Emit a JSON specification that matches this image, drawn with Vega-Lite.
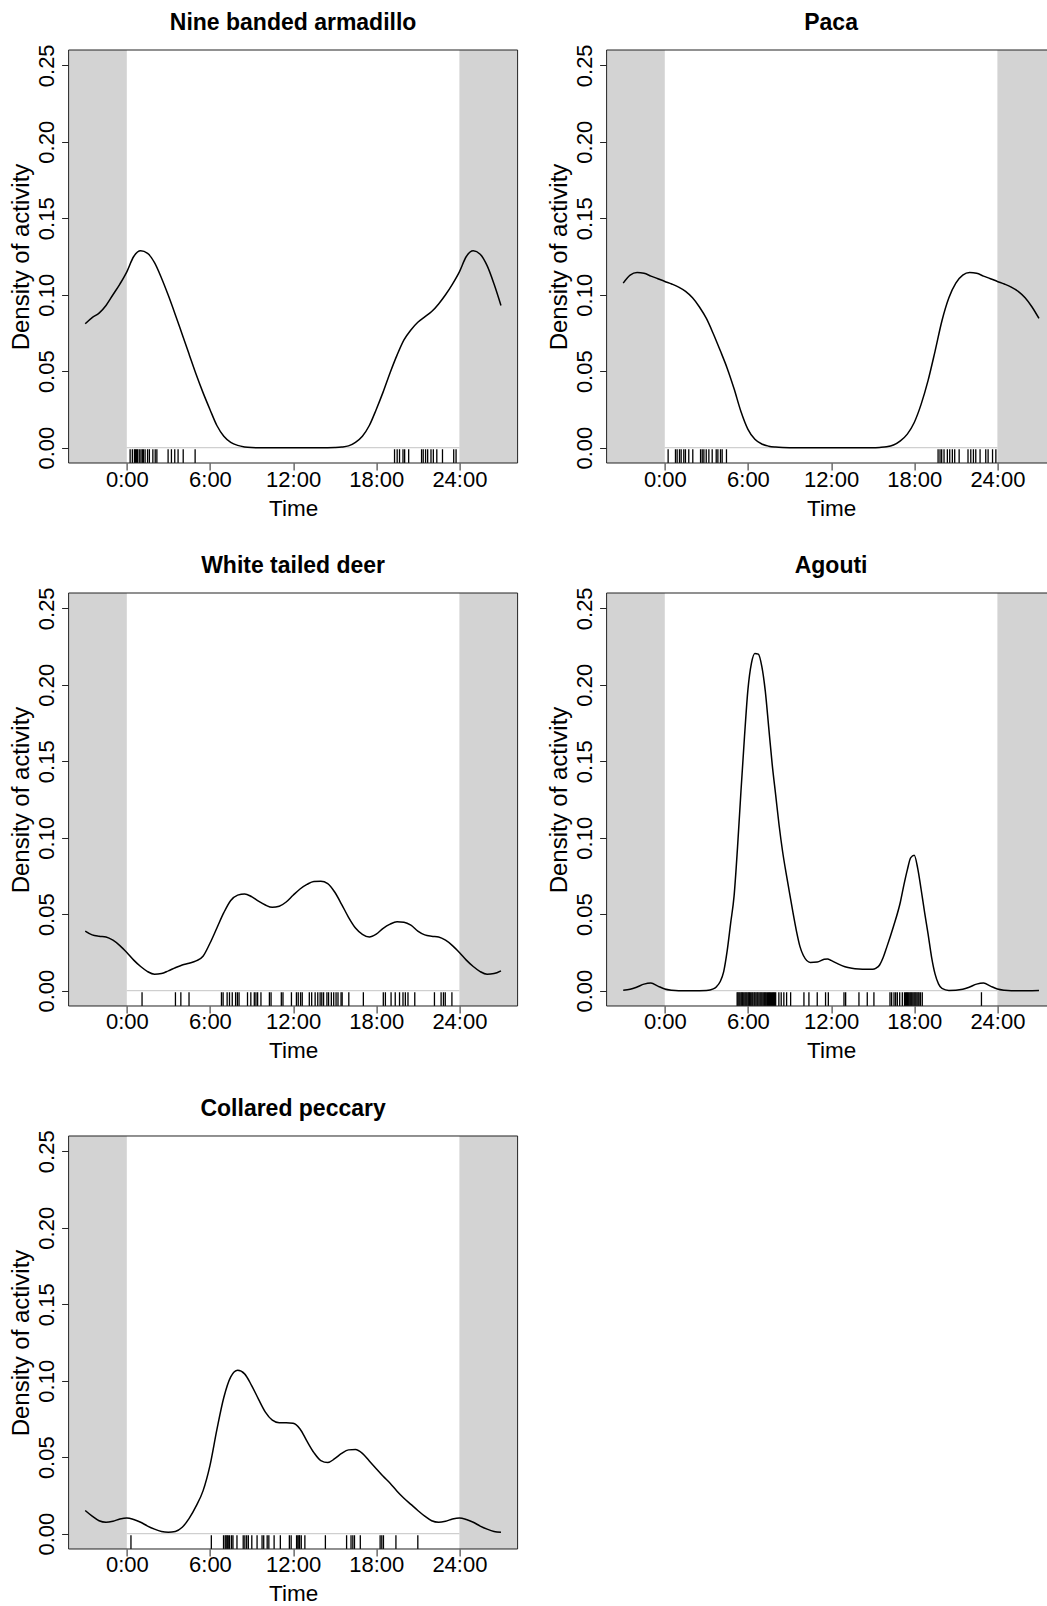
{
"$schema": "https://vega.github.io/schema/vega-lite/v6.json",
"background": "white",
"padding": {"left": 8.6, "top": 12, "right": 0, "bottom": 0},
"datasets": {
"nights": [{"t": -4.2, "t2": 0}, {"t": 24, "t2": 28.2}],
"day": [{"t": 0, "t2": 24}],
"frame": [{"t": -4.2, "t2": 28.2}],
"A_d": [{"t":-3,"d":0.081},{"t":-2.5,"d":0.085},{"t":-2,"d":0.088},{"t":-1.5,"d":0.093},{"t":-1,"d":0.1},{"t":-0.5,"d":0.107},{"t":0,"d":0.115},{"t":0.5,"d":0.125},{"t":1,"d":0.1287},{"t":1.5,"d":0.127},{"t":2,"d":0.121},{"t":2.5,"d":0.111},{"t":3,"d":0.0995},{"t":3.5,"d":0.087},{"t":4,"d":0.074},{"t":4.5,"d":0.061},{"t":5,"d":0.048},{"t":5.5,"d":0.036},{"t":6,"d":0.025},{"t":6.5,"d":0.0145},{"t":7,"d":0.0075},{"t":7.5,"d":0.0035},{"t":8,"d":0.0015},{"t":8.5,"d":0.0005},{"t":9,"d":0.0001},{"t":9.5,"d":0},{"t":10,"d":0},{"t":10.5,"d":0},{"t":11,"d":0},{"t":11.5,"d":0},{"t":12,"d":0},{"t":12.5,"d":0},{"t":13,"d":0},{"t":13.5,"d":0},{"t":14,"d":0},{"t":14.5,"d":0},{"t":15,"d":0.0001},{"t":15.5,"d":0.0004},{"t":16,"d":0.0012},{"t":16.5,"d":0.0035},{"t":17,"d":0.0075},{"t":17.5,"d":0.0145},{"t":18,"d":0.025},{"t":18.5,"d":0.0365},{"t":19,"d":0.049},{"t":19.5,"d":0.0605},{"t":20,"d":0.0705},{"t":20.5,"d":0.077},{"t":21,"d":0.082},{"t":21.5,"d":0.0855},{"t":22,"d":0.089},{"t":22.5,"d":0.094},{"t":23,"d":0.1},{"t":23.5,"d":0.107},{"t":24,"d":0.115},{"t":24.5,"d":0.125},{"t":25,"d":0.1287},{"t":25.5,"d":0.1265},{"t":26,"d":0.119},{"t":26.5,"d":0.107},{"t":27,"d":0.093}],
"P_d": [{"t":-3,"d":0.1076},{"t":-2.5,"d":0.1128},{"t":-2,"d":0.1145},{"t":-1.5,"d":0.114},{"t":-1,"d":0.1122},{"t":-0.5,"d":0.1105},{"t":0,"d":0.1087},{"t":0.5,"d":0.107},{"t":1,"d":0.105},{"t":1.5,"d":0.1022},{"t":2,"d":0.098},{"t":2.5,"d":0.092},{"t":3,"d":0.0845},{"t":3.5,"d":0.0745},{"t":4,"d":0.0635},{"t":4.5,"d":0.052},{"t":5,"d":0.0385},{"t":5.5,"d":0.0235},{"t":6,"d":0.012},{"t":6.5,"d":0.0055},{"t":7,"d":0.0024},{"t":7.5,"d":0.001},{"t":8,"d":0.0004},{"t":8.5,"d":0.0001},{"t":9,"d":0},{"t":9.5,"d":0},{"t":10,"d":0},{"t":10.5,"d":0},{"t":11,"d":0},{"t":11.5,"d":0},{"t":12,"d":0},{"t":12.5,"d":0},{"t":13,"d":0},{"t":13.5,"d":0},{"t":14,"d":0},{"t":14.5,"d":0},{"t":15,"d":0},{"t":15.5,"d":0.0002},{"t":16,"d":0.0006},{"t":16.5,"d":0.0018},{"t":17,"d":0.0045},{"t":17.5,"d":0.0089},{"t":18,"d":0.0165},{"t":18.5,"d":0.0285},{"t":19,"d":0.044},{"t":19.5,"d":0.063},{"t":20,"d":0.083},{"t":20.5,"d":0.098},{"t":21,"d":0.1076},{"t":21.5,"d":0.1128},{"t":22,"d":0.1145},{"t":22.5,"d":0.114},{"t":23,"d":0.1122},{"t":23.5,"d":0.1105},{"t":24,"d":0.1087},{"t":24.5,"d":0.107},{"t":25,"d":0.105},{"t":25.5,"d":0.1022},{"t":26,"d":0.098},{"t":26.5,"d":0.092},{"t":27,"d":0.0845}],
"W_d": [{"t":-3,"d":0.039},{"t":-2.5,"d":0.0365},{"t":-2,"d":0.0356},{"t":-1.5,"d":0.0351},{"t":-1,"d":0.033},{"t":-0.5,"d":0.0295},{"t":0,"d":0.025},{"t":0.5,"d":0.02},{"t":1,"d":0.0158},{"t":1.5,"d":0.0125},{"t":2,"d":0.0108},{"t":2.5,"d":0.0112},{"t":3,"d":0.013},{"t":3.5,"d":0.015},{"t":4,"d":0.0168},{"t":4.5,"d":0.018},{"t":5,"d":0.0195},{"t":5.5,"d":0.0225},{"t":6,"d":0.031},{"t":6.5,"d":0.041},{"t":7,"d":0.051},{"t":7.5,"d":0.059},{"t":8,"d":0.0625},{"t":8.5,"d":0.0633},{"t":9,"d":0.0615},{"t":9.5,"d":0.0585},{"t":10,"d":0.056},{"t":10.5,"d":0.0545},{"t":11,"d":0.0552},{"t":11.5,"d":0.058},{"t":12,"d":0.0624},{"t":12.5,"d":0.0665},{"t":13,"d":0.0695},{"t":13.5,"d":0.0714},{"t":14,"d":0.0715},{"t":14.5,"d":0.07},{"t":15,"d":0.0645},{"t":15.5,"d":0.0565},{"t":16,"d":0.048},{"t":16.5,"d":0.041},{"t":17,"d":0.0369},{"t":17.5,"d":0.0351},{"t":18,"d":0.037},{"t":18.5,"d":0.0408},{"t":19,"d":0.0435},{"t":19.5,"d":0.045},{"t":20,"d":0.0447},{"t":20.5,"d":0.0428},{"t":21,"d":0.039},{"t":21.5,"d":0.0365},{"t":22,"d":0.0356},{"t":22.5,"d":0.0351},{"t":23,"d":0.033},{"t":23.5,"d":0.0295},{"t":24,"d":0.025},{"t":24.5,"d":0.02},{"t":25,"d":0.0158},{"t":25.5,"d":0.0125},{"t":26,"d":0.0108},{"t":26.5,"d":0.0112},{"t":27,"d":0.013}],
"G_d": [{"t":-3,"d":0.0003},{"t":-2.5,"d":0.0009},{"t":-2,"d":0.0024},{"t":-1.5,"d":0.0043},{"t":-1,"d":0.005},{"t":-0.5,"d":0.003},{"t":0,"d":0.0011},{"t":0.5,"d":0.0003},{"t":1,"d":0},{"t":1.5,"d":0},{"t":2,"d":0},{"t":2.5,"d":0},{"t":3,"d":0.0001},{"t":3.5,"d":0.0012},{"t":3.75,"d":0.0028},{"t":4,"d":0.006},{"t":4.25,"d":0.0125},{"t":4.5,"d":0.026},{"t":4.75,"d":0.044},{"t":5,"d":0.062},{"t":5.25,"d":0.094},{"t":5.5,"d":0.131},{"t":5.75,"d":0.166},{"t":6,"d":0.197},{"t":6.25,"d":0.214},{"t":6.5,"d":0.2205},{"t":6.75,"d":0.22},{"t":7,"d":0.212},{"t":7.25,"d":0.196},{"t":7.5,"d":0.172},{"t":7.75,"d":0.148},{"t":8,"d":0.128},{"t":8.25,"d":0.108},{"t":8.5,"d":0.091},{"t":8.75,"d":0.077},{"t":9,"d":0.064},{"t":9.25,"d":0.051},{"t":9.5,"d":0.039},{"t":9.75,"d":0.029},{"t":10,"d":0.023},{"t":10.5,"d":0.0185},{"t":11,"d":0.0188},{"t":11.5,"d":0.0205},{"t":11.75,"d":0.0208},{"t":12,"d":0.0198},{"t":12.5,"d":0.0175},{"t":13,"d":0.0157},{"t":13.5,"d":0.0147},{"t":14,"d":0.0142},{"t":14.5,"d":0.014},{"t":15,"d":0.014},{"t":15.25,"d":0.0148},{"t":15.5,"d":0.0168},{"t":15.75,"d":0.0215},{"t":16,"d":0.028},{"t":16.5,"d":0.042},{"t":17,"d":0.058},{"t":17.25,"d":0.069},{"t":17.5,"d":0.079},{"t":17.75,"d":0.087},{"t":18,"d":0.0885},{"t":18.25,"d":0.08},{"t":18.5,"d":0.066},{"t":18.75,"d":0.051},{"t":19,"d":0.037},{"t":19.25,"d":0.022},{"t":19.5,"d":0.011},{"t":19.75,"d":0.0045},{"t":20,"d":0.0015},{"t":20.5,"d":0.0002},{"t":21,"d":0.0003},{"t":21.5,"d":0.0009},{"t":22,"d":0.0024},{"t":22.5,"d":0.0043},{"t":23,"d":0.005},{"t":23.5,"d":0.003},{"t":24,"d":0.0011},{"t":24.5,"d":0.0003},{"t":25,"d":0},{"t":25.5,"d":0},{"t":26,"d":0},{"t":26.5,"d":0},{"t":27,"d":0.0001}],
"C_d": [{"t":-3,"d":0.0152},{"t":-2.5,"d":0.0115},{"t":-2,"d":0.0085},{"t":-1.5,"d":0.0075},{"t":-1,"d":0.0082},{"t":-0.5,"d":0.0096},{"t":0,"d":0.0103},{"t":0.5,"d":0.0093},{"t":1,"d":0.0075},{"t":1.5,"d":0.005},{"t":2,"d":0.003},{"t":2.5,"d":0.0015},{"t":3,"d":0.001},{"t":3.5,"d":0.0015},{"t":4,"d":0.0042},{"t":4.5,"d":0.01},{"t":5,"d":0.018},{"t":5.5,"d":0.028},{"t":6,"d":0.0445},{"t":6.5,"d":0.068},{"t":7,"d":0.089},{"t":7.5,"d":0.1025},{"t":8,"d":0.1068},{"t":8.5,"d":0.1045},{"t":9,"d":0.097},{"t":9.5,"d":0.088},{"t":10,"d":0.0795},{"t":10.5,"d":0.0742},{"t":11,"d":0.0725},{"t":11.5,"d":0.0726},{"t":12,"d":0.0722},{"t":12.5,"d":0.0685},{"t":13,"d":0.0605},{"t":13.5,"d":0.053},{"t":14,"d":0.0478},{"t":14.5,"d":0.0465},{"t":15,"d":0.049},{"t":15.5,"d":0.0525},{"t":16,"d":0.0548},{"t":16.5,"d":0.055},{"t":17,"d":0.0525},{"t":17.5,"d":0.0475},{"t":18,"d":0.0425},{"t":18.5,"d":0.0375},{"t":19,"d":0.033},{"t":19.5,"d":0.0278},{"t":20,"d":0.0232},{"t":20.5,"d":0.0192},{"t":21,"d":0.0152},{"t":21.5,"d":0.0115},{"t":22,"d":0.0085},{"t":22.5,"d":0.0075},{"t":23,"d":0.0082},{"t":23.5,"d":0.0096},{"t":24,"d":0.0103},{"t":24.5,"d":0.0093},{"t":25,"d":0.0075},{"t":25.5,"d":0.005},{"t":26,"d":0.003},{"t":26.5,"d":0.0015},{"t":27,"d":0.001}],
"A_r": [{"t":0.24},{"t":0.4},{"t":0.55},{"t":0.62},{"t":0.7},{"t":0.78},{"t":0.9},{"t":1.02},{"t":1.12},{"t":1.2},{"t":1.32},{"t":1.5},{"t":1.63},{"t":1.88},{"t":2.05},{"t":2.17},{"t":2.98},{"t":3.22},{"t":3.46},{"t":3.7},{"t":4.07},{"t":4.93},{"t":19.32},{"t":19.51},{"t":19.68},{"t":19.93},{"t":20.05},{"t":20.34},{"t":21.27},{"t":21.39},{"t":21.56},{"t":21.71},{"t":21.95},{"t":22.12},{"t":22.37},{"t":22.78},{"t":23.59},{"t":23.76}],
"P_r": [{"t":0.24},{"t":0.77},{"t":0.89},{"t":1.06},{"t":1.18},{"t":1.37},{"t":1.49},{"t":1.73},{"t":2.02},{"t":2.58},{"t":2.7},{"t":2.82},{"t":2.99},{"t":3.18},{"t":3.42},{"t":3.71},{"t":3.83},{"t":4.02},{"t":4.14},{"t":4.45},{"t":19.72},{"t":19.86},{"t":19.98},{"t":20.15},{"t":20.39},{"t":20.56},{"t":20.75},{"t":20.92},{"t":21.24},{"t":21.88},{"t":22.08},{"t":22.27},{"t":22.44},{"t":22.75},{"t":23.16},{"t":23.33},{"t":23.65},{"t":23.89}],
"W_r": [{"t":1.1},{"t":3.51},{"t":3.9},{"t":4.49},{"t":6.83},{"t":6.95},{"t":7.24},{"t":7.41},{"t":7.61},{"t":7.85},{"t":7.98},{"t":8.1},{"t":8.71},{"t":8.95},{"t":9.2},{"t":9.32},{"t":9.44},{"t":9.68},{"t":10.29},{"t":10.41},{"t":11.15},{"t":11.27},{"t":11.88},{"t":12.24},{"t":12.37},{"t":12.54},{"t":12.66},{"t":13.17},{"t":13.34},{"t":13.59},{"t":13.78},{"t":13.95},{"t":14.07},{"t":14.2},{"t":14.44},{"t":14.56},{"t":14.76},{"t":14.93},{"t":15.1},{"t":15.24},{"t":15.46},{"t":15.54},{"t":16.02},{"t":17.07},{"t":18.51},{"t":18.66},{"t":19.07},{"t":19.37},{"t":19.68},{"t":19.93},{"t":20.1},{"t":20.29},{"t":20.78},{"t":22.2},{"t":22.68},{"t":22.85},{"t":22.98},{"t":23.46}],
"G_r": [{"t":5.22},{"t":5.28},{"t":5.35},{"t":5.42},{"t":5.5},{"t":5.56},{"t":5.62},{"t":5.7},{"t":5.78},{"t":5.85},{"t":5.92},{"t":6.0},{"t":6.06},{"t":6.12},{"t":6.2},{"t":6.28},{"t":6.35},{"t":6.44},{"t":6.5},{"t":6.58},{"t":6.66},{"t":6.72},{"t":6.8},{"t":6.88},{"t":6.95},{"t":7.02},{"t":7.1},{"t":7.18},{"t":7.25},{"t":7.32},{"t":7.4},{"t":7.48},{"t":7.55},{"t":7.62},{"t":7.7},{"t":7.78},{"t":7.85},{"t":7.92},{"t":8.0},{"t":8.23},{"t":8.4},{"t":8.59},{"t":8.79},{"t":9.08},{"t":10.04},{"t":10.4},{"t":11.0},{"t":11.6},{"t":11.8},{"t":12.93},{"t":13.05},{"t":14.01},{"t":14.61},{"t":15.09},{"t":16.25},{"t":16.37},{"t":16.54},{"t":16.66},{"t":16.78},{"t":16.95},{"t":17.14},{"t":17.3},{"t":17.38},{"t":17.45},{"t":17.52},{"t":17.6},{"t":17.68},{"t":17.75},{"t":17.82},{"t":17.9},{"t":17.98},{"t":18.05},{"t":18.12},{"t":18.2},{"t":18.28},{"t":18.35},{"t":18.45},{"t":18.58},{"t":22.85}],
"C_r": [{"t":0.3},{"t":6.1},{"t":6.98},{"t":7.1},{"t":7.17},{"t":7.25},{"t":7.32},{"t":7.42},{"t":7.56},{"t":7.66},{"t":7.95},{"t":8.4},{"t":8.52},{"t":8.65},{"t":8.77},{"t":9.02},{"t":9.4},{"t":9.76},{"t":9.88},{"t":10.13},{"t":10.25},{"t":10.63},{"t":11.08},{"t":11.73},{"t":11.86},{"t":12.25},{"t":12.34},{"t":12.42},{"t":12.47},{"t":12.59},{"t":12.85},{"t":14.33},{"t":15.86},{"t":16.18},{"t":16.31},{"t":16.43},{"t":16.85},{"t":18.28},{"t":18.4},{"t":18.52},{"t":19.42},{"t":21.0}]
},
"columns": 2,
"spacing": {"row": 130, "column": 89},
"bounds": "flush",
"concat": [
{"width": 449, "height": 413, "title": {"text": "Nine banded armadillo"},
 "layer": [
  {"data": {"name": "nights"}, "mark": {"type": "rect", "color": "#d3d3d3"},
   "encoding": {"x": {"field": "t", "type": "quantitative", "title": "Time", "scale": {"domain": [-4.2, 28.2], "nice": false, "zero": false}, "axis": {"values": [0, 6, 12, 18, 24], "labelExpr": "datum.value + ':00'", "title": "Time"}},
    "x2": {"field": "t2"},
    "y": {"datum": -0.01, "type": "quantitative", "title": "Density of activity", "scale": {"domain": [-0.01, 0.26], "nice": false, "zero": false}, "axis": {"values": [0, 0.05, 0.1, 0.15, 0.2, 0.25], "format": ".2f", "title": "Density of activity"}},
    "y2": {"datum": 0.26}}},
  {"data": {"name": "day"}, "mark": {"type": "rule", "color": "#c4c4c4", "strokeWidth": 1}, "encoding": {"x": {"field": "t", "type": "quantitative", "title": "Time"}, "x2": {"field": "t2"}, "y": {"datum": 0, "type": "quantitative"}}},
  {"data": {"name": "A_r"}, "mark": {"type": "rule", "color": "#000", "strokeWidth": 1.3}, "encoding": {"x": {"field": "t", "type": "quantitative", "title": "Time"}, "y": {"datum": -0.01, "type": "quantitative"}, "y2": {"datum": -0.001}}},
  {"data": {"name": "A_d"}, "mark": {"type": "line", "color": "#000", "strokeWidth": 1.5, "interpolate": "monotone"}, "encoding": {"x": {"field": "t", "type": "quantitative", "title": "Time"}, "y": {"field": "d", "type": "quantitative", "title": "Density of activity"}}},
  {"data": {"name": "frame"}, "mark": {"type": "rect", "filled": false, "stroke": "#222", "strokeWidth": 1}, "encoding": {"x": {"field": "t", "type": "quantitative", "title": "Time"}, "x2": {"field": "t2"}, "y": {"datum": -0.01, "type": "quantitative"}, "y2": {"datum": 0.26}}}
 ]},
{"width": 449, "height": 413, "title": {"text": "Paca"},
 "layer": [
  {"data": {"name": "nights"}, "mark": {"type": "rect", "color": "#d3d3d3"},
   "encoding": {"x": {"field": "t", "type": "quantitative", "title": "Time", "scale": {"domain": [-4.2, 28.2], "nice": false, "zero": false}, "axis": {"values": [0, 6, 12, 18, 24], "labelExpr": "datum.value + ':00'", "title": "Time"}},
    "x2": {"field": "t2"},
    "y": {"datum": -0.01, "type": "quantitative", "title": "Density of activity", "scale": {"domain": [-0.01, 0.26], "nice": false, "zero": false}, "axis": {"values": [0, 0.05, 0.1, 0.15, 0.2, 0.25], "format": ".2f", "title": "Density of activity"}},
    "y2": {"datum": 0.26}}},
  {"data": {"name": "day"}, "mark": {"type": "rule", "color": "#c4c4c4", "strokeWidth": 1}, "encoding": {"x": {"field": "t", "type": "quantitative", "title": "Time"}, "x2": {"field": "t2"}, "y": {"datum": 0, "type": "quantitative"}}},
  {"data": {"name": "P_r"}, "mark": {"type": "rule", "color": "#000", "strokeWidth": 1.3}, "encoding": {"x": {"field": "t", "type": "quantitative", "title": "Time"}, "y": {"datum": -0.01, "type": "quantitative"}, "y2": {"datum": -0.001}}},
  {"data": {"name": "P_d"}, "mark": {"type": "line", "color": "#000", "strokeWidth": 1.5, "interpolate": "monotone"}, "encoding": {"x": {"field": "t", "type": "quantitative", "title": "Time"}, "y": {"field": "d", "type": "quantitative", "title": "Density of activity"}}},
  {"data": {"name": "frame"}, "mark": {"type": "rect", "filled": false, "stroke": "#222", "strokeWidth": 1}, "encoding": {"x": {"field": "t", "type": "quantitative", "title": "Time"}, "x2": {"field": "t2"}, "y": {"datum": -0.01, "type": "quantitative"}, "y2": {"datum": 0.26}}}
 ]},
{"width": 449, "height": 413, "title": {"text": "White tailed deer"},
 "layer": [
  {"data": {"name": "nights"}, "mark": {"type": "rect", "color": "#d3d3d3"},
   "encoding": {"x": {"field": "t", "type": "quantitative", "title": "Time", "scale": {"domain": [-4.2, 28.2], "nice": false, "zero": false}, "axis": {"values": [0, 6, 12, 18, 24], "labelExpr": "datum.value + ':00'", "title": "Time"}},
    "x2": {"field": "t2"},
    "y": {"datum": -0.01, "type": "quantitative", "title": "Density of activity", "scale": {"domain": [-0.01, 0.26], "nice": false, "zero": false}, "axis": {"values": [0, 0.05, 0.1, 0.15, 0.2, 0.25], "format": ".2f", "title": "Density of activity"}},
    "y2": {"datum": 0.26}}},
  {"data": {"name": "day"}, "mark": {"type": "rule", "color": "#c4c4c4", "strokeWidth": 1}, "encoding": {"x": {"field": "t", "type": "quantitative", "title": "Time"}, "x2": {"field": "t2"}, "y": {"datum": 0, "type": "quantitative"}}},
  {"data": {"name": "W_r"}, "mark": {"type": "rule", "color": "#000", "strokeWidth": 1.3}, "encoding": {"x": {"field": "t", "type": "quantitative", "title": "Time"}, "y": {"datum": -0.01, "type": "quantitative"}, "y2": {"datum": -0.001}}},
  {"data": {"name": "W_d"}, "mark": {"type": "line", "color": "#000", "strokeWidth": 1.5, "interpolate": "monotone"}, "encoding": {"x": {"field": "t", "type": "quantitative", "title": "Time"}, "y": {"field": "d", "type": "quantitative", "title": "Density of activity"}}},
  {"data": {"name": "frame"}, "mark": {"type": "rect", "filled": false, "stroke": "#222", "strokeWidth": 1}, "encoding": {"x": {"field": "t", "type": "quantitative", "title": "Time"}, "x2": {"field": "t2"}, "y": {"datum": -0.01, "type": "quantitative"}, "y2": {"datum": 0.26}}}
 ]},
{"width": 449, "height": 413, "title": {"text": "Agouti"},
 "layer": [
  {"data": {"name": "nights"}, "mark": {"type": "rect", "color": "#d3d3d3"},
   "encoding": {"x": {"field": "t", "type": "quantitative", "title": "Time", "scale": {"domain": [-4.2, 28.2], "nice": false, "zero": false}, "axis": {"values": [0, 6, 12, 18, 24], "labelExpr": "datum.value + ':00'", "title": "Time"}},
    "x2": {"field": "t2"},
    "y": {"datum": -0.01, "type": "quantitative", "title": "Density of activity", "scale": {"domain": [-0.01, 0.26], "nice": false, "zero": false}, "axis": {"values": [0, 0.05, 0.1, 0.15, 0.2, 0.25], "format": ".2f", "title": "Density of activity"}},
    "y2": {"datum": 0.26}}},
  {"data": {"name": "day"}, "mark": {"type": "rule", "color": "#c4c4c4", "strokeWidth": 1}, "encoding": {"x": {"field": "t", "type": "quantitative", "title": "Time"}, "x2": {"field": "t2"}, "y": {"datum": 0, "type": "quantitative"}}},
  {"data": {"name": "G_r"}, "mark": {"type": "rule", "color": "#000", "strokeWidth": 1.3}, "encoding": {"x": {"field": "t", "type": "quantitative", "title": "Time"}, "y": {"datum": -0.01, "type": "quantitative"}, "y2": {"datum": -0.001}}},
  {"data": {"name": "G_d"}, "mark": {"type": "line", "color": "#000", "strokeWidth": 1.5, "interpolate": "monotone"}, "encoding": {"x": {"field": "t", "type": "quantitative", "title": "Time"}, "y": {"field": "d", "type": "quantitative", "title": "Density of activity"}}},
  {"data": {"name": "frame"}, "mark": {"type": "rect", "filled": false, "stroke": "#222", "strokeWidth": 1}, "encoding": {"x": {"field": "t", "type": "quantitative", "title": "Time"}, "x2": {"field": "t2"}, "y": {"datum": -0.01, "type": "quantitative"}, "y2": {"datum": 0.26}}}
 ]},
{"width": 449, "height": 413, "title": {"text": "Collared peccary"},
 "layer": [
  {"data": {"name": "nights"}, "mark": {"type": "rect", "color": "#d3d3d3"},
   "encoding": {"x": {"field": "t", "type": "quantitative", "title": "Time", "scale": {"domain": [-4.2, 28.2], "nice": false, "zero": false}, "axis": {"values": [0, 6, 12, 18, 24], "labelExpr": "datum.value + ':00'", "title": "Time"}},
    "x2": {"field": "t2"},
    "y": {"datum": -0.01, "type": "quantitative", "title": "Density of activity", "scale": {"domain": [-0.01, 0.26], "nice": false, "zero": false}, "axis": {"values": [0, 0.05, 0.1, 0.15, 0.2, 0.25], "format": ".2f", "title": "Density of activity"}},
    "y2": {"datum": 0.26}}},
  {"data": {"name": "day"}, "mark": {"type": "rule", "color": "#c4c4c4", "strokeWidth": 1}, "encoding": {"x": {"field": "t", "type": "quantitative", "title": "Time"}, "x2": {"field": "t2"}, "y": {"datum": 0, "type": "quantitative"}}},
  {"data": {"name": "C_r"}, "mark": {"type": "rule", "color": "#000", "strokeWidth": 1.3}, "encoding": {"x": {"field": "t", "type": "quantitative", "title": "Time"}, "y": {"datum": -0.01, "type": "quantitative"}, "y2": {"datum": -0.001}}},
  {"data": {"name": "C_d"}, "mark": {"type": "line", "color": "#000", "strokeWidth": 1.5, "interpolate": "monotone"}, "encoding": {"x": {"field": "t", "type": "quantitative", "title": "Time"}, "y": {"field": "d", "type": "quantitative", "title": "Density of activity"}}},
  {"data": {"name": "frame"}, "mark": {"type": "rect", "filled": false, "stroke": "#222", "strokeWidth": 1}, "encoding": {"x": {"field": "t", "type": "quantitative", "title": "Time"}, "x2": {"field": "t2"}, "y": {"datum": -0.01, "type": "quantitative"}, "y2": {"datum": 0.26}}}
 ]}
],
"config": {
 "view": {"stroke": null},
 "font": "Liberation Sans",
 "title": {"font": "Liberation Sans", "fontSize": 23, "fontWeight": "bold", "color": "#000", "frame": "group", "anchor": "middle", "baseline": "alphabetic", "offset": 8.5},
 "axis": {"grid": false, "domain": false, "ticks": true, "tickColor": "#222", "tickSize": 7, "tickWidth": 1, "labelColor": "#000", "titleColor": "#000", "labelFont": "Liberation Sans", "titleFont": "Liberation Sans", "labelFontSize": 22, "titleFontWeight": "normal", "labelOverlap": false, "labelFlush": false, "labelBound": false},
 "axisX": {"labelBaseline": "alphabetic", "labelPadding": 16, "titleFontSize": 22.5, "titleBaseline": "alphabetic", "titleAlign": "center", "titleX": 224.5, "titleY": 52},
 "axisY": {"labelAngle": 270, "labelAlign": "center", "labelBaseline": "alphabetic", "labelPadding": 8, "titleFontSize": 24, "titleAngle": 270, "titleBaseline": "alphabetic", "titleAlign": "center", "titleX": -40.5, "titleY": 206.5}
}
}
